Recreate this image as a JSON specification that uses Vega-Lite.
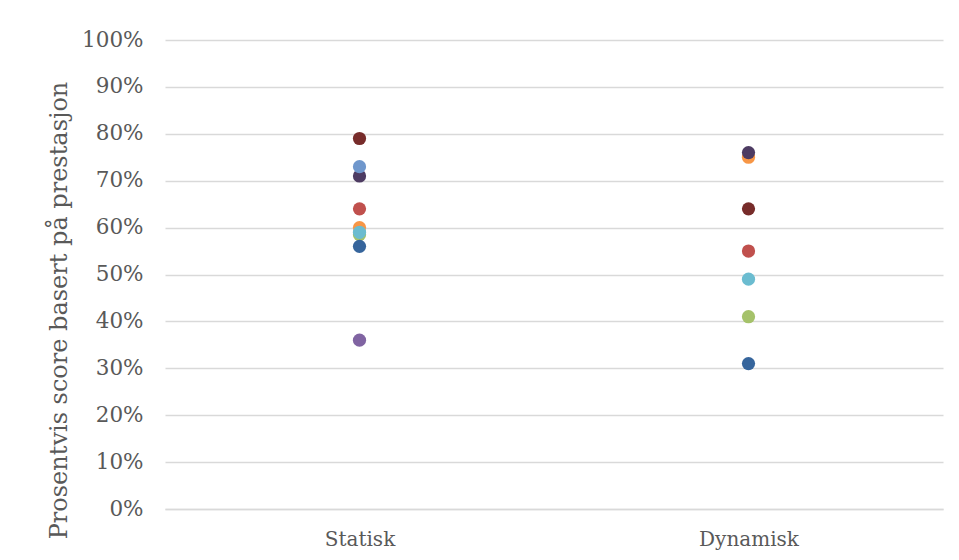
{
  "$schema": "https://vega.github.io/schema/vega-lite/v6.json",
  "autosize": {"type": "none"},
  "width": 778,
  "height": 469,
  "padding": {"left": 165, "top": 40, "right": 16, "bottom": 51},
  "background": "white",
  "config": {
    "view": {"stroke": null},
    "font": "DejaVu Serif",
    "axis": {
      "labelFont": "DejaVu Serif",
      "titleFont": "DejaVu Serif",
      "labelColor": "#595959",
      "titleColor": "#595959",
      "titleFontWeight": "normal",
      "gridColor": "#D9D9D9",
      "gridWidth": 1.5,
      "domainColor": "#D9D9D9",
      "domainWidth": 1.5,
      "ticks": false
    }
  },
  "data": {
    "values": [
      {"gruppe": "Statisk", "deltaker": "A", "score": 0.36},
      {"gruppe": "Statisk", "deltaker": "B", "score": 0.585},
      {"gruppe": "Statisk", "deltaker": "C", "score": 0.60},
      {"gruppe": "Statisk", "deltaker": "D", "score": 0.59},
      {"gruppe": "Statisk", "deltaker": "E", "score": 0.56},
      {"gruppe": "Statisk", "deltaker": "F", "score": 0.64},
      {"gruppe": "Statisk", "deltaker": "G", "score": 0.71},
      {"gruppe": "Statisk", "deltaker": "H", "score": 0.73},
      {"gruppe": "Statisk", "deltaker": "I", "score": 0.79},
      {"gruppe": "Dynamisk", "deltaker": "B", "score": 0.41},
      {"gruppe": "Dynamisk", "deltaker": "C", "score": 0.75},
      {"gruppe": "Dynamisk", "deltaker": "D", "score": 0.49},
      {"gruppe": "Dynamisk", "deltaker": "E", "score": 0.31},
      {"gruppe": "Dynamisk", "deltaker": "F", "score": 0.55},
      {"gruppe": "Dynamisk", "deltaker": "G", "score": 0.76},
      {"gruppe": "Dynamisk", "deltaker": "I", "score": 0.64}
    ]
  },
  "mark": {"type": "circle", "size": 175, "opacity": 1},
  "encoding": {
    "x": {
      "field": "gruppe",
      "type": "nominal",
      "sort": ["Statisk", "Dynamisk"],
      "scale": {"paddingInner": 0, "paddingOuter": 0},
      "axis": {
        "title": null,
        "labelAngle": 0,
        "labelFontSize": 20,
        "labelPadding": 20,
        "grid": false
      }
    },
    "y": {
      "field": "score",
      "type": "quantitative",
      "scale": {"domain": [0, 1], "nice": false},
      "axis": {
        "title": "Prosentvis score basert på prestasjon",
        "titleFontSize": 24,
        "titlePadding": 10,
        "titleY": 270,
        "labelFontSize": 21.5,
        "labelPadding": 22,
        "labelOverlap": false,
        "labelBound": false,
        "format": ".0%",
        "values": [0, 0.1, 0.2, 0.3, 0.4, 0.5, 0.6, 0.7, 0.8, 0.9, 1],
        "domain": false,
        "grid": true
      }
    },
    "color": {
      "field": "deltaker",
      "type": "nominal",
      "legend": null,
      "scale": {
        "domain": ["A", "B", "C", "D", "E", "F", "G", "H", "I"],
        "range": ["#8064A2", "#A5C26A", "#F79646", "#6BBCD0", "#36659C", "#C0504D", "#4D3B62", "#6F97CC", "#772C2A"]
      }
    },
    "order": {"field": "deltaker", "sort": "ascending"}
  }
}
